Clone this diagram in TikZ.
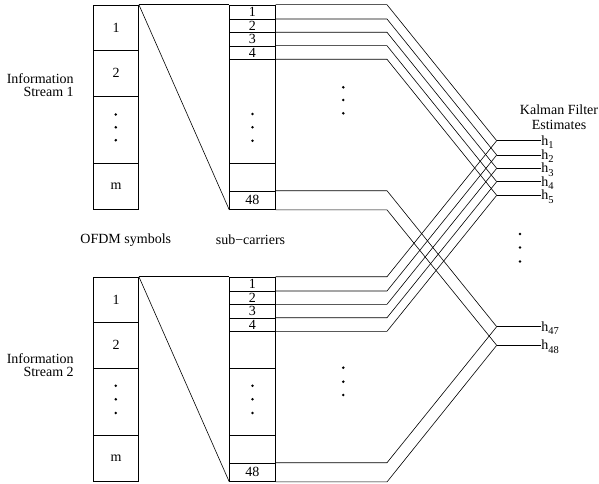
\documentclass[tikz,border=0pt]{standalone}
\usepackage{fontspec}
\setmainfont{Liberation Serif}
\newcommand{\hsub}[1]{h\raisebox{-3.2pt}{\fontsize{10.5}{10.5}\selectfont #1}}
\begin{document}
\begin{tikzpicture}[x=1pt,y=-1pt,line width=0.6pt,
  every node/.style={font=\fontsize{14}{14}\selectfont},
  lcell/.style={draw,anchor=north west,minimum width=45pt,inner sep=0pt},
  scell/.style={draw,anchor=north west,minimum width=45.7pt,inner sep=0pt},
  dotmark/.style={circle,fill,inner sep=0pt,minimum size=2.8pt},
  hlab/.style={anchor=base west,inner sep=0pt},
  lbl/.style={align=center,inner sep=0pt}]
\useasboundingbox (0,0) rectangle (599,484);
% ---------- Stream 1 ----------
\node[lcell,minimum height=45.6pt] (a1) at (93.3,4.7) {1};
\node[lcell,minimum height=45.4pt] (a2) at (93.3,50.3) {2};
\node[lcell,minimum height=67.6pt] (a3) at (93.3,95.7) {};
\node[lcell,minimum height=46pt]   (a4) at (93.3,163.3) {m};
\node[dotmark] (ad1) at (115.8,114.5) {};
\node[dotmark] (ad2) at (115.8,127.3) {};
\node[dotmark] (ad3) at (115.8,140.2) {};
\node[scell,minimum height=14.3pt] (b1) at (229.3,4.7) {\raisebox{-1pt}{1}};
\node[scell,minimum height=13.3pt] (b2) at (229.3,19) {\raisebox{-1pt}{2}};
\node[scell,minimum height=13.4pt] (b3) at (229.3,32.3) {\raisebox{-1pt}{3}};
\node[scell,minimum height=13.6pt] (b4) at (229.3,45.7) {\raisebox{-1pt}{4}};
\node[scell,minimum height=104pt]  (b5) at (229.3,59.3) {};
\node[scell,minimum height=27.4pt] (b6) at (229.3,163.3) {};
\node[scell,minimum height=18.6pt] (b7) at (229.3,190.7) {48};
\node[dotmark] (bd1) at (252.5,114) {};
\node[dotmark] (bd2) at (252.5,127.3) {};
\node[dotmark] (bd3) at (252.5,140.7) {};
\draw (a1.north east) -- (b1.north west);
\draw (a1.north east) -- (b7.south west);
\node[lbl,align=right,font=\fontsize{14}{13}\selectfont,anchor=east] (is1) at (74,85) {Information\\Stream 1};
\node[dotmark] (md1) at (343.3,87.3) {};
\node[dotmark] (md2) at (343.3,100) {};
\node[dotmark] (md3) at (343.3,113.3) {};
% ---------- Stream 2 ----------
\node[lcell,minimum height=45.6pt] (c1) at (93.3,276.7) {1};
\node[lcell,minimum height=45.4pt] (c2) at (93.3,322.3) {2};
\node[lcell,minimum height=67.6pt] (c3) at (93.3,367.7) {};
\node[lcell,minimum height=46pt]   (c4) at (93.3,435.3) {m};
\node[dotmark] (cd1) at (115.8,385.7) {};
\node[dotmark] (cd2) at (115.8,399.3) {};
\node[dotmark] (cd3) at (115.8,413) {};
\node[scell,minimum height=14.3pt] (d1) at (229.3,276.7) {\raisebox{-1pt}{1}};
\node[scell,minimum height=13.3pt] (d2) at (229.3,291) {\raisebox{-1pt}{2}};
\node[scell,minimum height=13.4pt] (d3) at (229.3,304.3) {\raisebox{-1pt}{3}};
\node[scell,minimum height=13.6pt] (d4) at (229.3,317.7) {\raisebox{-1pt}{4}};
\node[scell,minimum height=36.4pt] (d5) at (229.3,331.3) {};
\node[scell,minimum height=67.6pt] (d6) at (229.3,367.7) {};
\node[scell,minimum height=27.4pt] (d7) at (229.3,435.3) {};
\node[scell,minimum height=18.6pt] (d8) at (229.3,462.7) {48};
\node[dotmark] (dd1) at (252.5,385.7) {};
\node[dotmark] (dd2) at (252.5,399.3) {};
\node[dotmark] (dd3) at (252.5,413) {};
\draw (c1.north east) -- (d1.north west);
\draw (c1.north east) -- (d8.south west);
\node[lbl,align=right,font=\fontsize{14}{13}\selectfont,anchor=east] (is2) at (74,365) {Information\\Stream 2};
\node[dotmark] (nd1) at (343.3,367.7) {};
\node[dotmark] (nd2) at (343.3,381.7) {};
\node[dotmark] (nd3) at (343.3,395) {};
% ---------- captions ----------
\node[lbl] (ofdm) at (125.8,240) {OFDM symbols};
\node[lbl] (subc) at (250.5,240) {sub−carriers};
\node[lbl,font=\fontsize{14}{15}\selectfont] (kf) at (559,117) {Kalman Filter\\Estimates};
% ---------- junctions and estimates ----------
\coordinate (bend) at (387,0);
\coordinate (j1) at (496.7,140.7);
\coordinate (j2) at (496.7,155);
\coordinate (j3) at (496.7,168.3);
\coordinate (j4) at (496.7,181.7);
\coordinate (j5) at (496.7,195.3);
\coordinate (j47) at (496.7,326.7);
\coordinate (j48) at (496.7,345.3);
\node[hlab] (h1) at (541,145.2) {\hsub{1}};
\node[hlab] (h2) at (541,159.5) {\hsub{2}};
\node[hlab] (h3) at (541,172.8) {\hsub{3}};
\node[hlab] (h4) at (541,186.2) {\hsub{4}};
\node[hlab] (h5) at (541,199.8) {\hsub{5}};
\node[hlab] (h47) at (541,331.2) {\hsub{47}};
\node[hlab] (h48) at (541,349.8) {\hsub{48}};
\foreach \j in {1,2,3,4,5,47,48} {\draw (j\j) -- (j\j -| h\j.west);}
\node[dotmark] (rd1) at (520,234) {};
\node[dotmark] (rd2) at (520,247.5) {};
\node[dotmark] (rd3) at (520,261.5) {};
% ---------- connectors, stream 1 ----------
\draw (b1.north east) -- (b1.north east -| bend) -- (j1);
\draw (b2.north east) -- (b2.north east -| bend) -- (j2);
\draw (b3.north east) -- (b3.north east -| bend) -- (j3);
\draw (b4.north east) -- (b4.north east -| bend) -- (j4);
\draw (b5.north east) -- (b5.north east -| bend) -- (j5);
\draw (b7.north east) -- (b7.north east -| bend) -- (j47);
\draw (b7.south east) -- (b7.south east -| bend) -- (j48);
% ---------- connectors, stream 2 ----------
\draw (d1.north east) -- (d1.north east -| bend) -- (j1);
\draw (d2.north east) -- (d2.north east -| bend) -- (j2);
\draw (d3.north east) -- (d3.north east -| bend) -- (j3);
\draw (d4.north east) -- (d4.north east -| bend) -- (j4);
\draw (d5.north east) -- (d5.north east -| bend) -- (j5);
\draw (d8.north east) -- (d8.north east -| bend) -- (j47);
\draw (d8.south east) -- (d8.south east -| bend) -- (j48);
\end{tikzpicture}
\end{document}
